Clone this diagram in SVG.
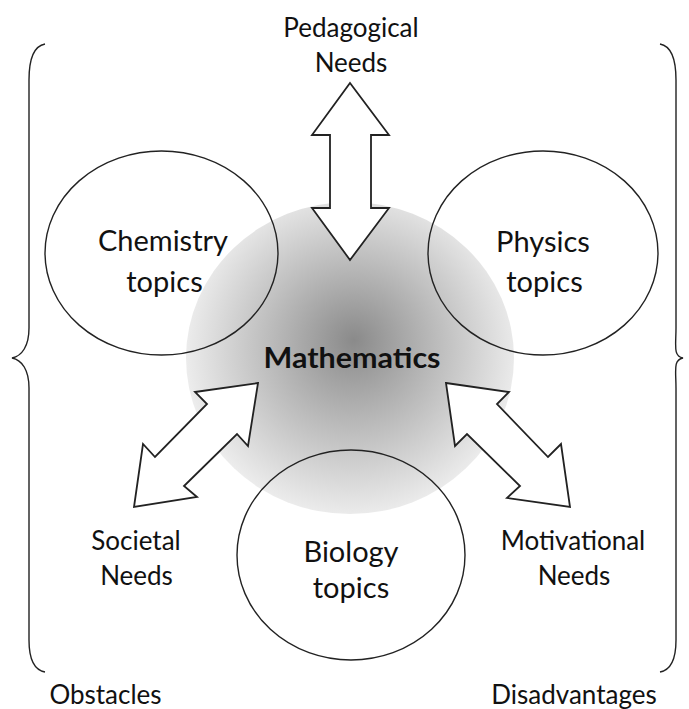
<svg xmlns="http://www.w3.org/2000/svg" width="689" height="709" viewBox="0 0 689 709">
  <style>
    .lbl { font-family: Lato, "Liberation Sans", sans-serif; font-size: 26px; fill: #111; text-anchor: middle; }
    .topic { font-family: Lato, "Liberation Sans", sans-serif; font-size: 29px; fill: #111; text-anchor: middle; }
    .math { font-family: Lato, "Liberation Sans", sans-serif; font-size: 28px; font-weight: bold; fill: #111; text-anchor: middle; }
    .ring { fill: none; stroke: #222; stroke-width: 1.4; }
    .arrow { fill: #fff; stroke: #222; stroke-width: 1.8; stroke-linejoin: miter; }
    .brace { fill: none; stroke: #222; stroke-width: 1.4; }
  </style>
  <defs>
    <radialGradient id="mathGrad" gradientUnits="userSpaceOnUse" cx="352" cy="350" r="168" fx="354" fy="340">
      <stop offset="0" stop-color="#8a8a8a"/>
      <stop offset="0.5" stop-color="#bcbcbc"/>
      <stop offset="1" stop-color="#ededed"/>
    </radialGradient>
  </defs>
  <rect width="689" height="709" fill="#fff"/>

  <g id="mathematics">
    <ellipse cx="350" cy="358" rx="164" ry="156" fill="url(#mathGrad)"/>
    <text class="math" x="352" y="368" textLength="177" lengthAdjust="spacingAndGlyphs">Mathematics</text>
  </g>

  <g id="chemistry">
    <ellipse class="ring" cx="161.5" cy="253" rx="116.5" ry="102"/>
    <text class="topic" x="163" y="251">Chemistry</text>
    <text class="topic" x="164.5" y="292">topics</text>
  </g>

  <g id="physics">
    <ellipse class="ring" cx="543" cy="253" rx="115" ry="102"/>
    <text class="topic" x="543" y="252">Physics</text>
    <text class="topic" x="544.5" y="292">topics</text>
  </g>

  <g id="biology">
    <ellipse class="ring" cx="351" cy="555" rx="114" ry="105"/>
    <text class="topic" x="351" y="562">Biology</text>
    <text class="topic" x="351" y="598">topics</text>
  </g>

  <g id="connectors">
    <polygon class="arrow" points="350,83 389,135 371,135 371,208 389,208 350,260 312,208 330,208 330,135 312,135"/>
    <polygon class="arrow" points="258,383 195,392 207,404 155,457 143,444 134,507 197,497 184,486 237,434 248,446"/>
    <polygon class="arrow" points="446,383 509,392 497,404 548,457 561,444 570,507 507,498 520,486 467,434 455,446"/>
  </g>

  <g id="pedagogical-needs">
    <text class="lbl" x="351" y="37">Pedagogical</text>
    <text class="lbl" x="351" y="72">Needs</text>
  </g>
  <g id="societal-needs">
    <text class="lbl" x="136" y="550">Societal</text>
    <text class="lbl" x="136.5" y="585">Needs</text>
  </g>
  <g id="motivational-needs">
    <text class="lbl" x="573" y="550">Motivational</text>
    <text class="lbl" x="574" y="585">Needs</text>
  </g>

  <g id="obstacles">
    <path class="brace" d="M45,44 C34,46 29,58 29,80 L29,328 C29,346 22,356 12,358 C22,360 29,370 29,388 L29,640 C29,660 34,670 45,672"/>
    <text class="lbl" x="105.5" y="704">Obstacles</text>
  </g>
  <g id="disadvantages">
    <path class="brace" d="M660,44 C671,46 676,58 676,80 L676,328 C676,346 673,356 683,358 C673,360 676,370 676,388 L676,640 C676,660 671,670 660,672"/>
    <text class="lbl" x="574" y="704">Disadvantages</text>
  </g>
</svg>
